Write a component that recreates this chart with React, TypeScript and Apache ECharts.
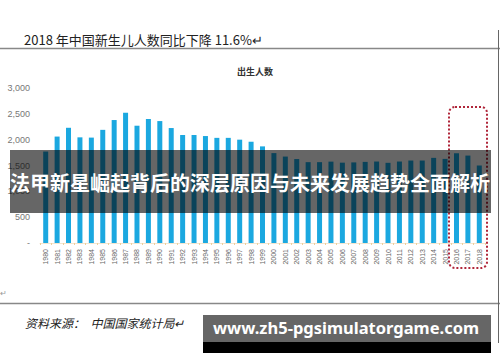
import React, { useEffect, useRef } from "react";
import * as echarts from "echarts";

const years: string[] = [
  "1980","1981","1982","1983","1984","1985","1986","1987","1988","1989",
  "1990","1991","1992","1993","1994","1995","1996","1997","1998","1999",
  "2000","2001","2002","2003","2004","2005","2006","2007","2008","2009",
  "2010","2011","2012","2013","2014","2015","2016","2017","2018",
];
const births: number[] = [
  1770, 2060, 2230, 2045, 2040, 2190, 2380, 2520, 2270, 2400,
  2360, 2225, 2090, 2090, 2070, 2035, 2035, 2000, 1960, 1870,
  1740, 1673, 1625, 1565, 1565, 1575, 1555, 1560, 1570, 1577,
  1552, 1577, 1596, 1596, 1648, 1628, 1737, 1692, 1500,
];
const yTicks = { min: 0, max: 3000, interval: 500 };

const heading = "2018 年中国新生儿人数同比下降 11.6%↵";
const chartTitle = "出生人数";
const sourceText = "资料来源：  中国国家统计局↵";
const bannerText = "法甲新星崛起背后的深层原因与未来发展趋势全面解析";
const urlText = "www.zh5-pgsimulatorgame.com";

export default function App() {
  const ref = useRef<HTMLDivElement>(null);
  useEffect(() => {
    if (!ref.current) return;
    const chart = echarts.init(ref.current, null, { renderer: "svg" });
    chart.setOption({
      animation: false,
      backgroundColor: "#ffffff",
      title: {
        text: chartTitle,
        left: 250,
        top: 62,
        textAlign: "center",
        textStyle: {
          fontFamily: "Noto Sans CJK SC",
          fontSize: 9,
          fontWeight: "bold",
          color: "#333",
        },
      },
      grid: { left: 40, right: 15, top: 88, bottom: 119 },
      xAxis: {
        type: "category",
        data: years,
        axisLine: { show: true, lineStyle: { color: "#f3e6d0", width: 1 } },
        axisTick: { show: true, length: 2, lineStyle: { color: "#f0cf9a" } },
        axisLabel: {
          rotate: 90,
          interval: 0,
          fontSize: 7,
          color: "#666",
          margin: 6,
          fontFamily: "Liberation Sans",
        },
      },
      yAxis: {
        type: "value",
        min: yTicks.min,
        max: yTicks.max,
        interval: yTicks.interval,
        splitLine: { show: false },
        axisLine: { show: false },
        axisTick: { show: false },
        axisLabel: {
          fontSize: 9,
          color: "#777",
          margin: 10,
          fontFamily: "Liberation Sans",
          formatter: (v: number) => (v === 0 ? "-" : v.toLocaleString("en-US")),
        },
      },
      series: [
        {
          type: "bar",
          data: births,
          barWidth: 5,
          itemStyle: { color: "#1ba8e0" },
        },
      ],
      graphic: [
        {
          type: "text",
          left: 24,
          top: 33,
          style: {
            text: heading,
            fontFamily: "Noto Sans CJK SC",
            fontSize: 13,
            fill: "#222",
          },
        },
        {
          type: "line",
          shape: { x1: 0, y1: 48.5, x2: 500, y2: 48.5 },
          style: { stroke: "#888", lineWidth: 1.5 },
        },
        {
          type: "line",
          shape: { x1: 0, y1: 303.5, x2: 500, y2: 303.5 },
          style: { stroke: "#888", lineWidth: 1.5 },
        },
        {
          type: "line",
          shape: { x1: 498.5, y1: 30, x2: 498.5, y2: 343 },
          style: { stroke: "#666", lineWidth: 1 },
        },
        {
          type: "text",
          left: 0,
          top: 289,
          style: { text: "↵", fontSize: 8, fill: "#999" },
        },
        {
          type: "rect",
          z: 50,
          shape: { x: 449, y: 107, width: 38, height: 161, r: 6 },
          style: {
            fill: "none",
            stroke: "#b0263a",
            lineWidth: 2,
            lineDash: [2, 2],
          },
        },
        {
          type: "text",
          left: 25,
          top: 316,
          style: {
            text: sourceText,
            fontFamily: "Noto Sans CJK SC",
            fontStyle: "italic",
            fontSize: 12,
            fill: "#222",
          },
        },
        {
          type: "rect",
          z: 100,
          shape: { x: 10, y: 150, width: 481, height: 63 },
          style: { fill: "rgba(0,0,0,0.6)" },
        },
        {
          type: "text",
          z: 101,
          left: 10,
          top: 172,
          style: {
            text: bannerText,
            fontFamily: "Noto Sans CJK SC",
            fontWeight: "bold",
            fontSize: 20,
            fill: "#ffffff",
          },
        },
        {
          type: "rect",
          z: 100,
          shape: { x: 203, y: 315, width: 288, height: 38 },
          style: { fill: "#666666" },
        },
        {
          type: "rect",
          z: 100,
          shape: { x: 203, y: 342, width: 288, height: 11 },
          style: { fill: "#000000" },
        },
        {
          type: "text",
          z: 101,
          left: 213,
          top: 319,
          style: {
            text: urlText,
            fontFamily: "Noto Sans",
            fontWeight: "bold",
            fontSize: 16.5,
            fill: "#ffffff",
          },
        },
      ],
    });
    return () => chart.dispose();
  }, []);
  return (
    <div
      ref={ref}
      style={{ position: "fixed", left: 0, top: 0, width: 500, height: 362 }}
    />
  );
}
